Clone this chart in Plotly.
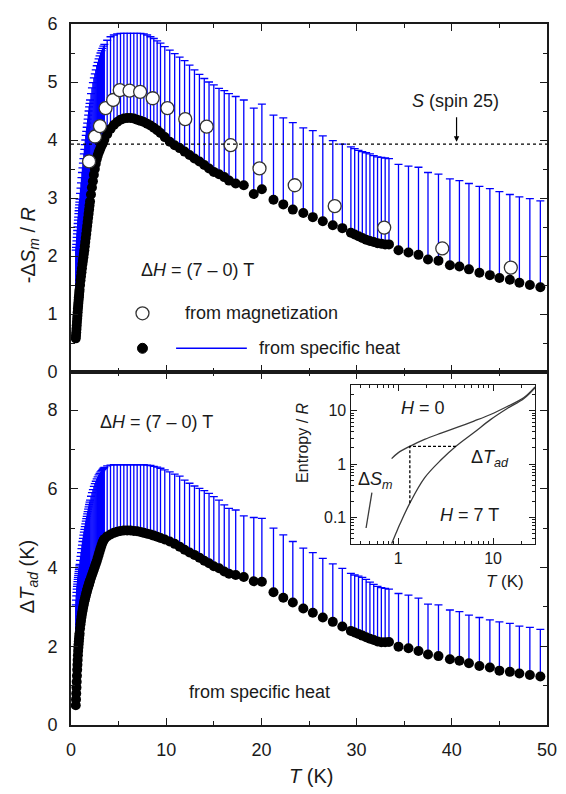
import plotly.graph_objects as go

# ---------------- data ----------------
# temperature grid of the specific-heat analysis (K)
T = [0.500, 0.525, 0.550, 0.575, 0.600, 0.625, 0.650, 0.675, 0.700, 0.725,
     0.750, 0.775, 0.800, 0.825, 0.850, 0.875, 0.900, 0.95,
     1.00, 1.05, 1.10, 1.15, 1.20, 1.25, 1.30, 1.35, 1.40, 1.45,
     1.50, 1.55, 1.60, 1.65, 1.70, 1.75, 1.80, 1.85, 1.90, 1.95,
     2.00, 2.10, 2.20, 2.30, 2.40, 2.50, 2.60, 2.70, 2.80, 2.90,
     3.00, 3.10, 3.20, 3.30, 3.40, 3.50, 3.80, 4.15, 4.50, 4.85,
     5.20, 5.55, 5.90, 6.25, 6.60, 6.95, 7.30, 7.65, 8.00, 8.35,
     8.70, 9.05, 9.40, 9.85, 10.37, 10.89, 11.41, 11.93, 12.45, 12.97,
     13.49, 14.00, 14.50, 15.00, 15.55, 16.10, 16.60, 17.30, 18.15, 19.20,
     20.05, 21.27, 22.30, 23.30, 24.40, 25.40, 26.45, 27.50, 28.50, 29.40,
     29.80, 30.20, 30.60, 31.00, 31.40, 31.80, 32.20, 32.60, 33.00, 33.40,
     34.40, 35.45, 36.50, 37.50, 38.60, 39.80, 40.80, 41.80, 42.90, 44.00,
     45.00, 46.10, 47.10, 48.20, 49.30]

# -dS_m / R from specific heat, and the upper end of its uncertainty
dS_heat = [0.58, 0.63, 0.68, 0.74, 0.80, 0.86, 0.92, 0.97, 1.03, 1.09,
           1.14, 1.19, 1.24, 1.29, 1.33, 1.38, 1.42, 1.50,
           1.58, 1.65, 1.72, 1.79, 1.86, 1.92, 1.98, 2.04, 2.10, 2.17,
           2.24, 2.31, 2.38, 2.45, 2.52, 2.59, 2.66, 2.73, 2.80, 2.87,
           2.94, 3.06, 3.18, 3.29, 3.40, 3.50, 3.59, 3.67, 3.73, 3.78,
           3.82, 3.86, 3.90, 3.93, 3.97, 4.01, 4.10, 4.19, 4.26, 4.31,
           4.35, 4.37, 4.38, 4.38, 4.37, 4.35, 4.33, 4.31, 4.28, 4.25,
           4.21, 4.17, 4.12, 4.05, 3.97, 3.91, 3.86, 3.80, 3.74, 3.68,
           3.63, 3.57, 3.51, 3.45, 3.41, 3.36, 3.30, 3.25, 3.22, 3.07,
           3.15, 2.97, 2.89, 2.80, 2.74, 2.67, 2.60, 2.53, 2.48, 2.40,
           2.37, 2.34, 2.31, 2.28, 2.26, 2.24, 2.22, 2.21, 2.20, 2.20,
           2.10, 2.06, 2.02, 1.94, 1.92, 1.84, 1.82, 1.77, 1.71, 1.67,
           1.62, 1.59, 1.54, 1.50, 1.46]
dS_upper = [2.10, 2.15, 2.20, 2.26, 2.32, 2.38, 2.44, 2.50, 2.56, 2.62,
            2.67, 2.73, 2.78, 2.83, 2.88, 2.93, 2.98, 3.08,
            3.17, 3.26, 3.35, 3.44, 3.52, 3.60, 3.68, 3.76, 3.84, 3.92,
            4.00, 4.08, 4.15, 4.22, 4.29, 4.36, 4.43, 4.50, 4.57, 4.63,
            4.69, 4.80, 4.90, 4.99, 5.07, 5.14, 5.21, 5.28, 5.34, 5.40,
            5.45, 5.50, 5.54, 5.58, 5.62, 5.65, 5.72, 5.78, 5.81, 5.83,
            5.84, 5.84, 5.84, 5.84, 5.84, 5.84, 5.84, 5.83, 5.81, 5.78,
            5.75, 5.71, 5.67, 5.61, 5.55, 5.49, 5.43, 5.37, 5.29, 5.21,
            5.13, 5.06, 5.00, 4.95, 4.89, 4.85, 4.80, 4.75, 4.69, 4.55,
            4.62, 4.43, 4.38, 4.30, 4.21, 4.16, 4.07, 3.99, 3.93, 3.88,
            3.85, 3.82, 3.80, 3.78, 3.76, 3.73, 3.71, 3.70, 3.69, 3.68,
            3.58, 3.55, 3.53, 3.44, 3.41, 3.33, 3.30, 3.25, 3.20, 3.16,
            3.11, 3.06, 3.02, 2.99, 2.95]

# adiabatic temperature change (K) and the upper end of its uncertainty
dT_heat = [0.50, 0.65, 0.80, 0.95, 1.10, 1.25, 1.40, 1.53, 1.65, 1.77,
           1.88, 1.97, 2.05, 2.13, 2.20, 2.27, 2.33, 2.45,
           2.56, 2.65, 2.74, 2.82, 2.89, 2.96, 3.02, 3.08, 3.14, 3.19,
           3.24, 3.29, 3.34, 3.38, 3.43, 3.47, 3.51, 3.55, 3.59, 3.63,
           3.67, 3.74, 3.81, 3.88, 3.95, 4.02, 4.09, 4.16, 4.24, 4.32,
           4.40, 4.48, 4.56, 4.63, 4.68, 4.72, 4.79, 4.84, 4.88, 4.91,
           4.93, 4.94, 4.94, 4.94, 4.93, 4.92, 4.90, 4.88, 4.86, 4.84,
           4.81, 4.78, 4.75, 4.71, 4.66, 4.60, 4.53, 4.45, 4.38, 4.32,
           4.25, 4.17, 4.11, 4.03, 3.98, 3.90, 3.84, 3.81, 3.76, 3.65,
           3.64, 3.37, 3.23, 3.11, 2.96, 2.85, 2.73, 2.62, 2.50, 2.39,
           2.35, 2.31, 2.27, 2.23, 2.19, 2.16, 2.12, 2.10, 2.10, 2.11,
           1.99, 1.95, 1.88, 1.79, 1.75, 1.67, 1.63, 1.57, 1.50, 1.46,
           1.38, 1.35, 1.31, 1.27, 1.23]
dT_upper = [3.05, 3.17, 3.28, 3.37, 3.45, 3.52, 3.58, 3.64, 3.70, 3.75,
            3.80, 3.85, 3.90, 3.95, 3.99, 4.04, 4.08, 4.18,
            4.28, 4.38, 4.48, 4.57, 4.66, 4.74, 4.82, 4.90, 4.97, 5.04,
            5.11, 5.18, 5.24, 5.30, 5.36, 5.42, 5.48, 5.54, 5.60, 5.66,
            5.71, 5.81, 5.90, 5.98, 6.06, 6.13, 6.19, 6.25, 6.30, 6.35,
            6.39, 6.43, 6.46, 6.49, 6.52, 6.54, 6.58, 6.60, 6.61, 6.61,
            6.61, 6.61, 6.61, 6.61, 6.61, 6.61, 6.61, 6.61, 6.60, 6.59,
            6.57, 6.55, 6.52, 6.48, 6.43, 6.37, 6.32, 6.22, 6.14, 6.07,
            6.01, 5.95, 5.88, 5.80, 5.71, 5.59, 5.50, 5.46, 5.31, 5.27,
            5.25, 5.00, 4.83, 4.66, 4.49, 4.38, 4.23, 4.09, 3.98, 3.85,
            3.81, 3.78, 3.75, 3.70, 3.63, 3.57, 3.52, 3.49, 3.47, 3.45,
            3.34, 3.30, 3.22, 3.07, 3.05, 2.92, 2.88, 2.79, 2.73, 2.67,
            2.62, 2.58, 2.51, 2.48, 2.43]

# -dS_m / R from magnetization
T_mag = [1.9, 2.52, 3.04, 3.63, 4.43, 5.12, 6.15, 7.26, 8.58, 10.13,
         12.0, 14.25, 16.77, 19.8, 23.5, 27.7, 32.9, 39.0, 46.2]
dS_mag = [3.63, 4.06, 4.24, 4.55, 4.69, 4.86, 4.85, 4.83, 4.72, 4.55,
          4.36, 4.23, 3.91, 3.51, 3.22, 2.86, 2.49, 2.13, 1.80]

# full spin entropy R ln(2S+1), S = 25
S_spin25 = 3.93
T_spin25_arrow = 40.5

# inset: entropy curves (log-log)
H0_T = [0.855, 1.0, 1.33, 1.9, 2.84, 4.24, 6.3, 9.4, 14.1, 21.0, 27.7]
H0_S = [1.26, 1.62, 2.15, 2.9, 3.8, 4.9, 6.4, 8.5, 12.0, 17.5, 28.0]
H0_low_T = [0.46, 0.53]
H0_low_S = [0.063, 0.29]
H7_T = [0.855, 0.95, 1.04, 1.33, 1.9, 2.84, 4.07, 6.3, 9.4, 14.1, 21.0, 27.7]
H7_S = [0.032, 0.05, 0.073, 0.185, 0.55, 1.2, 2.15, 3.9, 6.8, 11.0, 16.8, 27.0]
guide_T = [4.07, 1.33, 1.33]
guide_S = [2.15, 2.15, 0.185]

# ---------------- style ----------------
FONT = "Liberation Sans, Arial, sans-serif"
BLUE = "#0000ff"
INK = "#1a1a1a"
CURVE = "#3a3a3a"

XS = 1.009  # horizontal layout scale
W, H = 566, 794
L, R_, TOP, B = 71, 9, 24, 69
PW, PH = W - L - R_, H - TOP - B
split = 353 / PH  # bottom panel height share


def px(xp, yp):
    """layout pixel position -> paper coordinates"""
    return (xp * XS - L) / PW, (H - B - yp) / PH


fig = go.Figure()

# ---- top panel ----
fig.add_trace(go.Scatter(
    x=T, y=dS_heat, xaxis="x2", yaxis="y2", mode="markers",
    marker=dict(size=1, color=BLUE),
    error_y=dict(type="data", symmetric=False,
                 array=[u - v for u, v in zip(dS_upper, dS_heat)],
                 arrayminus=[0] * len(T), color=BLUE, thickness=1.3, width=4),
    hoverinfo="skip", showlegend=False))
fig.add_trace(go.Scatter(
    x=T, y=dS_heat, xaxis="x2", yaxis="y2", mode="markers",
    marker=dict(size=10, color="black"), showlegend=False))
fig.add_trace(go.Scatter(
    x=T_mag, y=dS_mag, xaxis="x2", yaxis="y2", mode="markers",
    marker=dict(size=13, color="white", line=dict(color="#333333", width=1.3)),
    showlegend=False))

# ---- bottom panel ----
fig.add_trace(go.Scatter(
    x=T, y=dT_heat, xaxis="x", yaxis="y", mode="markers",
    marker=dict(size=1, color=BLUE),
    error_y=dict(type="data", symmetric=False,
                 array=[u - v for u, v in zip(dT_upper, dT_heat)],
                 arrayminus=[0] * len(T), color=BLUE, thickness=1.3, width=4),
    hoverinfo="skip", showlegend=False))
fig.add_trace(go.Scatter(
    x=T, y=dT_heat, xaxis="x", yaxis="y", mode="markers",
    marker=dict(size=10, color="black"), showlegend=False))

# ---- inset ----
for xs, ys, dash in [(H0_T, H0_S, "solid"), (H0_low_T, H0_low_S, "solid"),
                     (H7_T, H7_S, "solid"), (guide_T, guide_S, "3px,2px")]:
    fig.add_trace(go.Scatter(
        x=xs, y=ys, xaxis="x3", yaxis="y3", mode="lines",
        line=dict(color=CURVE if dash == "solid" else "black", width=1.3,
                  dash=dash, shape="spline" if dash == "solid" else "linear"),
        showlegend=False))

axis_common = dict(showline=True, linecolor=INK, linewidth=1.6, mirror="ticks",
                   ticks="inside", ticklen=7, tickwidth=1.3, tickcolor=INK,
                   showgrid=False, zeroline=False, ticklabeloverflow="allow",
                   tickfont=dict(family=FONT, size=18, color=INK))
minor_common = dict(ticks="inside", ticklen=4, tickwidth=1.2, tickcolor=INK, showgrid=False)

inset_x0, inset_y1 = px(353.3, 385.3)
inset_x1, inset_y0 = px(540, 543.7)

fig.update_layout(
    width=W, height=H, margin=dict(l=L, r=R_, t=TOP, b=B),
    paper_bgcolor="white", plot_bgcolor="white",
    font=dict(family=FONT, color=INK),
    xaxis=dict(axis_common, domain=[0, 1], anchor="y", range=[0, 50], dtick=10,
               minor=dict(minor_common, dtick=5), ticklabelstandoff=8),
    yaxis=dict(axis_common, domain=[0, split], anchor="x", range=[0, 8.965], dtick=2,
               minor=dict(minor_common, dtick=1), ticklabelstandoff=8),
    xaxis2=dict(axis_common, domain=[0, 1], anchor="y2", range=[0, 50], dtick=10,
                matches="x", showticklabels=False, minor=dict(minor_common, dtick=5)),
    yaxis2=dict(axis_common, domain=[split, 1], anchor="x2", range=[0, 6], dtick=1,
                minor=dict(minor_common, dtick=0.5), ticklabelstandoff=8),
    xaxis3=dict(axis_common, type="log", domain=[inset_x0, inset_x1], anchor="y3",
                range=[-0.5, 1.443], tickvals=[1, 10], ticktext=["1", "10"],
                ticklen=6, linewidth=1.3, tickfont=dict(family=FONT, size=16, color=INK),
                minor=dict(minor_common, ticklen=3,
                           tickvals=[m * 10 ** e for e in (-1, 0, 1) for m in range(2, 10)])),
    yaxis3=dict(axis_common, type="log", domain=[inset_y0, inset_y1], anchor="x3",
                range=[-1.495, 1.477], tickvals=[0.1, 1, 10], ticktext=["0.1", "1", "10"],
                ticklen=6, linewidth=1.3, tickfont=dict(family=FONT, size=16, color=INK),
                minor=dict(minor_common, ticklen=3,
                           tickvals=[m * 10 ** e for e in (-2, -1, 0, 1) for m in range(2, 10)])),
)

shapes = []
# spin-25 entropy level
shapes.append(dict(type="line", xref="x2 domain", yref="y2", x0=0, x1=1,
                   y0=S_spin25, y1=S_spin25, line=dict(color="black", width=1.2, dash="3px,3px")))
# legend symbols
lx, ly1 = px(142.7, 313.3)
_, ly2 = px(142.7, 348.3)
shapes.append(dict(type="circle", xref="paper", yref="paper", xsizemode="pixel", ysizemode="pixel",
                   xanchor=lx, yanchor=ly1, x0=-6.5, x1=6.5, y0=-6.5, y1=6.5,
                   fillcolor="white", line=dict(color="#333333", width=1.3)))
shapes.append(dict(type="circle", xref="paper", yref="paper", xsizemode="pixel", ysizemode="pixel",
                   xanchor=lx, yanchor=ly2, x0=-5, x1=5, y0=-5, y1=5,
                   fillcolor="black", line=dict(color="black", width=1)))
bx0, _ = px(176.7, 0)
bx1, _ = px(248.3, 0)
shapes.append(dict(type="line", xref="paper", yref="paper", x0=bx0, x1=bx1, y0=ly2, y1=ly2,
                   line=dict(color=BLUE, width=1.5)))
fig.update_layout(shapes=shapes)

ann = []


def text(xp, yp, s, size=18, xanchor="left", angle=0):
    x, y = px(xp, yp)
    ann.append(dict(xref="paper", yref="paper", x=x, y=y, text=s, showarrow=False,
                    xanchor=xanchor, yanchor="middle", textangle=angle,
                    font=dict(family=FONT, size=size, color=INK)))


text(139, 270, "Δ<i>H</i> = (7 – 0) T", 18)
text(184, 313, "from magnetization", 18)
text(259, 348, "from specific heat", 18)
text(459, 101, "<i>S</i> (spin 25)", 18, "center")
text(98, 422, "Δ<i>H</i> = (7 – 0) T", 18)
text(261, 692, "from specific heat", 18, "center")
text(28, 245, "-Δ<i>S</i><sub><i>m</i></sub> / <i>R</i>", 20, "center", -90)
text(27, 577, "Δ<i>T</i><sub><i>ad</i></sub> (K)", 20, "center", -90)
text(313, 776, "<i>T</i> (K)", 20, "center")
# inset labels
text(304, 443, "Entropy / <i>R</i>", 16, "center", -90)
text(510, 581, "<i>T</i> (K)", 17, "center")
text(427, 408, "<i>H</i> = 0", 18, "center")
text(474, 515, "<i>H</i> = 7 T", 18, "center")
text(494, 459, "Δ<i>T</i><sub><i>ad</i></sub>", 18, "center")
text(378, 480, "Δ<i>S</i><sub><i>m</i></sub>", 18, "center")

ann.append(dict(xref="x2", yref="y2", x=T_spin25_arrow, y=S_spin25 + 0.04, ax=0, ay=-26,
                text="", showarrow=True, arrowhead=2, arrowsize=0.9, arrowwidth=1.2,
                arrowcolor="black"))
fig.update_layout(annotations=ann)

fig.write_html("out.html")
